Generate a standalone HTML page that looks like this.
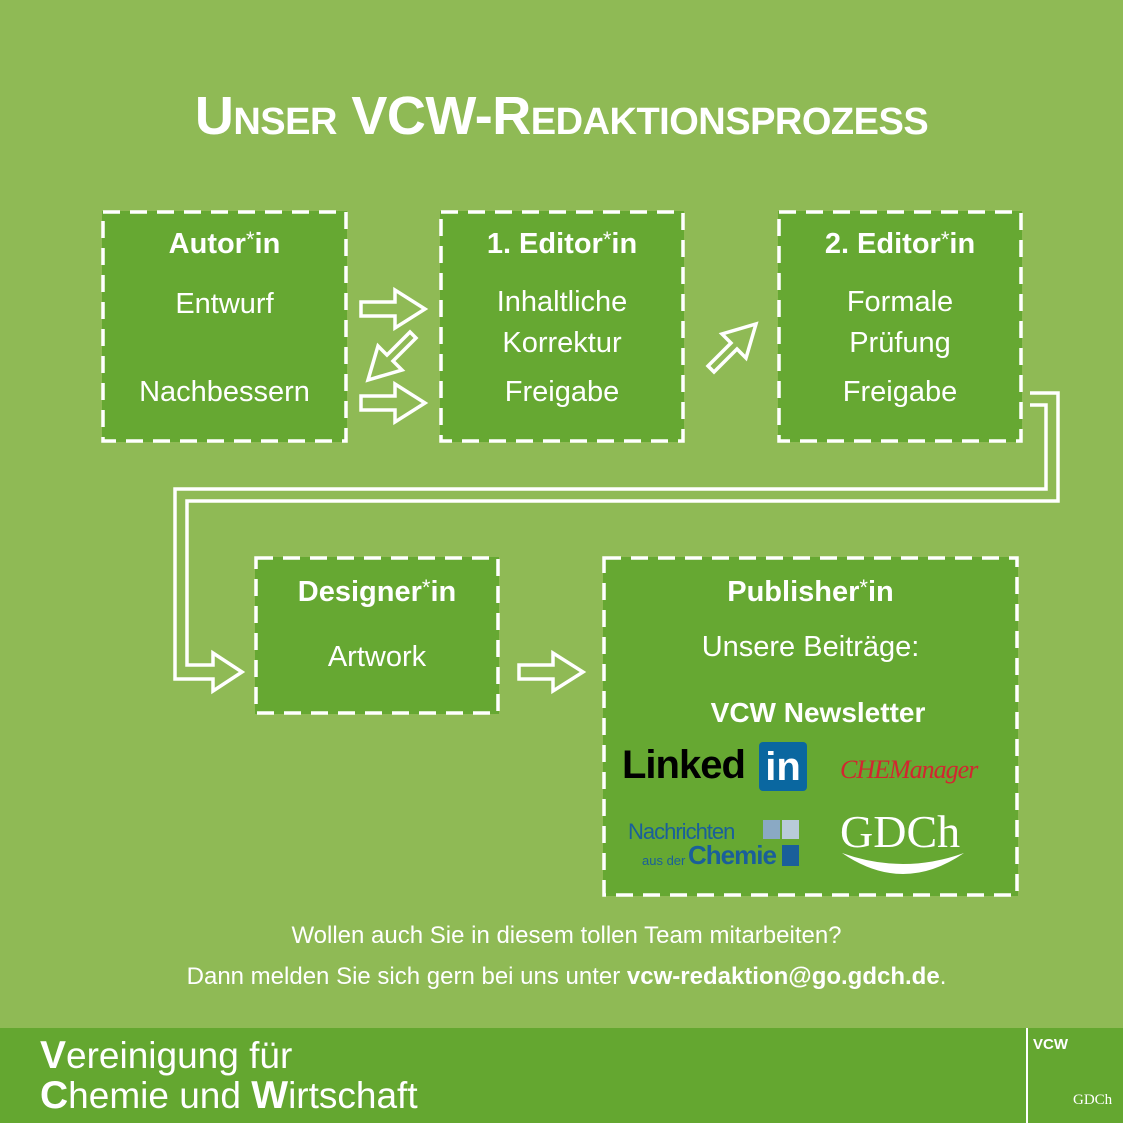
<!DOCTYPE html>
<html><head><meta charset="utf-8"><style>
*{margin:0;padding:0;box-sizing:border-box}
body{width:1123px;height:1123px;background:#8fba55;position:relative;overflow:hidden;font-family:"Liberation Sans",sans-serif;color:#fff}
.t{position:absolute;white-space:nowrap}
.box{position:absolute;background:#66a832;text-align:center}
.h{font-weight:bold;font-size:29px}
.b{font-size:29px;font-weight:normal}
</style></head><body>
<div class="t" style="left:0;width:1123px;top:85px;text-align:center;font-size:54px;font-weight:bold;font-variant:small-caps;letter-spacing:-0.5px">Unser VCW-Redaktionsprozess</div>

<div class="box" style="left:102px;top:211px;width:245px;height:231px"></div>
<div class="box" style="left:440px;top:211px;width:244px;height:231px"></div>
<div class="box" style="left:778px;top:211px;width:244px;height:231px"></div>
<div class="box" style="left:255px;top:557px;width:244px;height:157px"></div>
<div class="box" style="left:603px;top:557px;width:415px;height:339px"></div>

<svg width="1123" height="1123" style="position:absolute;left:0;top:0">
<g fill="none" stroke="#fff" stroke-width="3.5" stroke-dasharray="17,10">
<rect x="103" y="212" width="243" height="229"/>
<rect x="441" y="212" width="242" height="229"/>
<rect x="779" y="212" width="242" height="229"/>
<rect x="256" y="558" width="242" height="155"/>
<rect x="604" y="558" width="413" height="337"/>
</g>
<g fill="none" stroke="#fff" stroke-width="3.5" stroke-linejoin="miter">
<polygon points="361,302 395,302 395,290 425,309 395,328 395,316 361,316"/>
<polygon points="361,396 395,396 395,384 425,403 395,422 395,410 361,410"/>
<polygon points="416,338 393,361 402,370 368,380 378,346 387,355 410,332"/>
<polygon points="708,366 731,343 722,334 756,324 746,358 737,349 714,372"/>
<polygon points="519,665 553,665 553,653 583,672 553,691 553,679 519,679"/>
<path d="M1030,393 H1058 V501 H187 V665 H213 V653 L242,672 L213,691 V679 H175 V489 H1046 V405 H1030"/>
</g>
</svg>

<div class="t h" style="left:102px;width:245px;text-align:center;top:227px">Autor<span style="font-weight:normal;font-size:22px;vertical-align:6px">*</span>in</div>
<div class="t b" style="left:102px;width:245px;text-align:center;top:288px">Entwurf</div>
<div class="t b" style="left:102px;width:245px;text-align:center;top:376px">Nachbessern</div>

<div class="t h" style="left:440px;width:244px;text-align:center;top:227px">1. Editor<span style="font-weight:normal;font-size:22px;vertical-align:6px">*</span>in</div>
<div class="t b" style="left:440px;width:244px;text-align:center;top:286px">Inhaltliche</div>
<div class="t b" style="left:440px;width:244px;text-align:center;top:327px">Korrektur</div>
<div class="t b" style="left:440px;width:244px;text-align:center;top:376px">Freigabe</div>

<div class="t h" style="left:778px;width:244px;text-align:center;top:227px">2. Editor<span style="font-weight:normal;font-size:22px;vertical-align:6px">*</span>in</div>
<div class="t b" style="left:778px;width:244px;text-align:center;top:286px">Formale</div>
<div class="t b" style="left:778px;width:244px;text-align:center;top:327px">Prüfung</div>
<div class="t b" style="left:778px;width:244px;text-align:center;top:376px">Freigabe</div>

<div class="t h" style="left:255px;width:244px;text-align:center;top:575px">Designer<span style="font-weight:normal;font-size:22px;vertical-align:6px">*</span>in</div>
<div class="t b" style="left:255px;width:244px;text-align:center;top:641px">Artwork</div>

<div class="t h" style="left:603px;width:415px;text-align:center;top:575px">Publisher<span style="font-weight:normal;font-size:22px;vertical-align:6px">*</span>in</div>
<div class="t b" style="left:603px;width:415px;text-align:center;top:631px">Unsere Beiträge:</div>
<div class="t" style="left:603px;width:430px;text-align:center;top:697px;font-size:28px;font-weight:bold">VCW Newsletter</div>

<div class="t" style="left:622px;top:743px;font-size:40px;font-weight:bold;color:#000;letter-spacing:-1px">Linked</div>
<div class="t" style="left:759px;top:742px;width:48px;height:49px;background:#0a67a0;border-radius:4px;font-size:40px;font-weight:bold;text-align:center;line-height:50px">in</div>
<div class="t" style="left:840px;top:755px;font-family:'Liberation Serif',serif;font-style:italic;font-size:26px;color:#d22630;letter-spacing:-1px">CHEManager</div>
<div class="t" style="left:628px;top:819px;font-size:22px;color:#1a5f9a;letter-spacing:-1px">Nachrichten</div>
<div class="t" style="left:642px;top:853px;font-size:13px;color:#1a5f9a">aus der</div>
<div class="t" style="left:688px;top:840px;font-size:26px;font-weight:bold;color:#1a5f9a;letter-spacing:-1px">Chemie</div>
<div class="t" style="left:763px;top:820px;width:17px;height:19px;background:#8aa9c4"></div>
<div class="t" style="left:782px;top:820px;width:17px;height:19px;background:#b8cbd9"></div>
<div class="t" style="left:782px;top:845px;width:17px;height:21px;background:#1a5f9a"></div>
<div class="t" style="left:840px;top:805px;font-family:'Liberation Serif',serif;font-size:46px;color:#fff">GDCh</div>
<svg width="130" height="30" style="position:absolute;left:840px;top:850px"><path d="M2,3 Q63,45 124,3 Q63,25 2,3Z" fill="#fff"/></svg>

<div class="t" style="left:0;width:1133px;text-align:center;top:922px;font-size:24px">Wollen auch Sie in diesem tollen Team mitarbeiten?</div>
<div class="t" style="left:0;width:1133px;text-align:center;top:963px;font-size:24px">Dann melden Sie sich gern bei uns unter <b>vcw-redaktion@go.gdch.de</b>.</div>

<div style="position:absolute;left:0;top:1028px;width:1123px;height:95px;background:#64a730"></div>
<div style="position:absolute;left:1026px;top:1028px;width:2px;height:95px;background:#fff"></div>
<div class="t" style="left:40px;top:1036px;font-size:37px;line-height:40px"><span style="font-weight:bold;font-size:39px">V</span>ereinigung für<br><span style="font-weight:bold;font-size:39px">C</span>hemie und <span style="font-weight:bold;font-size:39px">W</span>irtschaft</div>
<div class="t" style="left:1033px;top:1036px;font-size:15px;font-weight:bold">VCW</div>
<div class="t" style="left:1073px;top:1092px;font-family:'Liberation Serif',serif;font-size:15px">GDCh</div>
</body></html>
